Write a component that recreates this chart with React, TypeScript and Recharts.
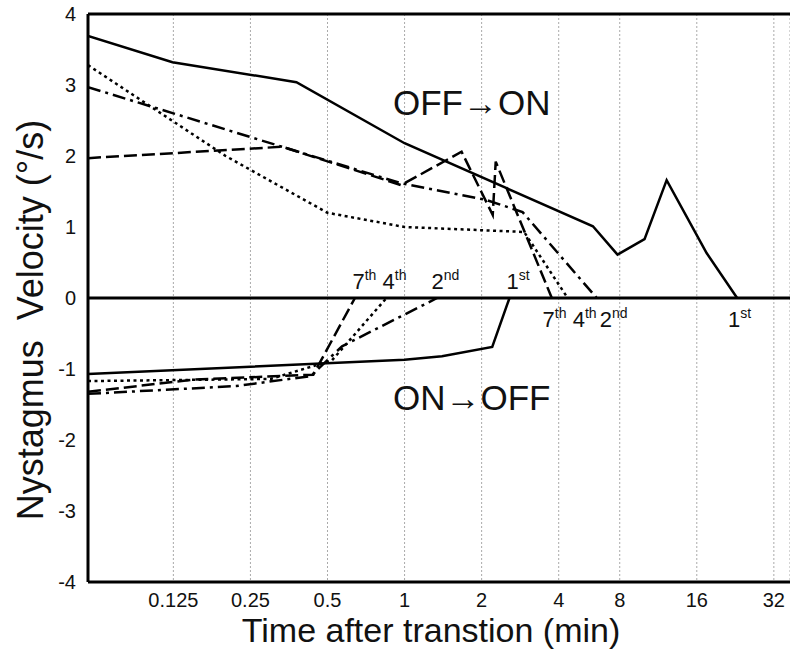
import React from "react";
import {
  LineChart,
  Line,
  XAxis,
  YAxis,
  CartesianGrid,
  ReferenceLine,
  ReferenceDot,
  Label,
} from "recharts";

// time (min), velocity (deg/s)
const xTicks = [0.125, 0.25, 0.5, 1, 2, 4, 8, 16, 32];
const yTicks = [-4, -3, -2, -1, 0, 1, 2, 3, 4];

const offOn1st = [
  [0.058, 3.69], [0.124, 3.32], [0.378, 3.04], [1.0, 2.18], [5.9, 1.01],
  [7.8, 0.61], [10.0, 0.83], [12.2, 1.66], [17.5, 0.63], [23, 0],
];
const offOn2nd = [[0.058, 2.97], [0.96, 1.62], [2.09, 1.38], [2.89, 1.21], [6.16, 0]];
const offOn4th = [[0.058, 3.28], [0.2, 2.0], [0.5, 1.2], [1.0, 1.0], [2.93, 0.93], [4.43, 0]];
const offOn7th = [
  [0.058, 1.97], [0.333, 2.13], [0.97, 1.59], [1.67, 2.06], [2.21, 1.17], [2.27, 1.92], [3.76, 0],
];

const onOff1st = [[0.058, -1.07], [1.0, -0.87], [1.4, -0.82], [2.2, -0.69], [2.57, 0]];
const onOff2nd = [[0.058, -1.35], [0.22, -1.24], [0.43, -1.1], [0.57, -0.68], [1.34, 0]];
const onOff4th = [[0.058, -1.17], [0.3, -1.14], [0.52, -0.88], [0.85, 0]];
const onOff7th = [[0.058, -1.32], [0.15, -1.15], [0.44, -1.08], [0.64, 0]];

// ordinal labels near the zero line: [time, num, suffix]
const upperTags = [[0.626, "7", "th"], [0.82, "4", "th"], [1.275, "2", "nd"], [2.5, "1", "st"]];
const lowerTags = [[3.46, "7", "th"], [4.69, "4", "th"], [6.38, "2", "nd"], [21.2, "1", "st"]];

// the original axis squeezes the 4-8 octave a bit
const pos = (t: number) =>
  t <= 4 ? Math.log2(t / 0.125) : t <= 8 ? 5 + 0.792 * Math.log2(t / 4) : 5.792 + Math.log2(t / 8);

const toData = (arr: number[][]) => arr.map(([t, v]) => ({ x: pos(t), y: v }));

const font = "'Liberation Sans', Arial, sans-serif";

const tickLabel = (v: number) => {
  const t = xTicks.find((k) => Math.abs(pos(k) - v) < 1e-6);
  return t === undefined ? "" : String(t);
};

const tagShape = (num: string, sup: string, dy: number) => (p: any) => (
  <text x={p.cx} y={p.cy + dy} fontFamily={font} fontSize={22} fill="#111">
    <tspan>{num}</tspan>
    <tspan dy={-9} fontSize={14}>{sup}</tspan>
  </text>
);

const bigText = (txt: string) => (p: any) => (
  <text x={p.cx} y={p.cy} textAnchor="middle" fontFamily={font} fontSize={35} fill="#111">
    {txt}
  </text>
);

const series = [
  { data: offOn1st, dash: undefined },
  { data: offOn2nd, dash: "13 5 3 5" },
  { data: offOn4th, dash: "3 3.5" },
  { data: offOn7th, dash: "13 5" },
  { data: onOff1st, dash: undefined },
  { data: onOff2nd, dash: "13 5 3 5" },
  { data: onOff4th, dash: "3 3.5" },
  { data: onOff7th, dash: "13 5" },
];

export default function App() {
  return (
    <div style={{ width: 790, height: 656, background: "#fff" }}>
      <style>{`body{margin:0}`}</style>
      <LineChart width={790} height={656} margin={{ top: 14, right: 0, left: 0, bottom: 0 }}>
        <CartesianGrid vertical horizontal={false} stroke="#aaa" strokeDasharray="2 2" />
        <XAxis
          type="number"
          dataKey="x"
          domain={[pos(0.058), pos(37)]}
          ticks={xTicks.map(pos)}
          tickFormatter={tickLabel}
          allowDataOverflow
          height={74}
          tickLine={false}
          tickMargin={5}
          axisLine={{ stroke: "#000", strokeWidth: 3 }}
          tick={{ fill: "#111", fontSize: 20, fontFamily: font }}
        >
          <Label
            content={(p: any) => (
              <text
                x={p.viewBox.x + p.viewBox.width / 2 - 8}
                y={p.viewBox.y + 60}
                textAnchor="middle"
                fontFamily={font}
                fontSize={34}
                fill="#111"
              >
                Time after transtion (min)
              </text>
            )}
          />
        </XAxis>
        <YAxis
          type="number"
          domain={[-4, 4]}
          ticks={yTicks}
          width={88}
          tickLine={false}
          tickMargin={6}
          axisLine={{ stroke: "#000", strokeWidth: 3 }}
          tick={{ fill: "#111", fontSize: 20, fontFamily: font }}
        >
          <Label
            content={(p: any) => {
              const cx = 30;
              const cy = p.viewBox.y + p.viewBox.height / 2 + 22;
              return (
                <text
                  x={cx}
                  y={cy}
                  transform={`rotate(-90 ${cx} ${cy})`}
                  textAnchor="middle"
                  dominantBaseline="central"
                  fontFamily={font}
                  fontSize={36}
                  fill="#111"
                  style={{ whiteSpace: "pre" }}
                >
                  {"Nystagmus  Velocity (°/s)"}
                </text>
              );
            }}
          />
        </YAxis>
        <ReferenceLine y={4} stroke="#000" strokeWidth={3} />
        <ReferenceLine y={0} stroke="#000" strokeWidth={3} />
        {series.map((s, i) => (
          <Line
            key={i}
            data={toData(s.data)}
            dataKey="y"
            type="linear"
            stroke="#000"
            strokeWidth={2.5}
            strokeDasharray={s.dash}
            dot={false}
            activeDot={false}
            isAnimationActive={false}
          />
        ))}
        {upperTags.map(([t, n, s], i) => (
          <ReferenceDot
            key={"u" + i}
            x={pos(t as number)}
            y={0}
            r={0}
            shape={tagShape(n as string, s as string, -9)}
          />
        ))}
        {lowerTags.map(([t, n, s], i) => (
          <ReferenceDot
            key={"l" + i}
            x={pos(t as number)}
            y={0}
            r={0}
            shape={tagShape(n as string, s as string, 29)}
          />
        ))}
        <ReferenceDot x={pos(1.83)} y={2.58} r={0} shape={bigText("OFF→ON")} />
        <ReferenceDot x={pos(1.83)} y={-1.58} r={0} shape={bigText("ON→OFF")} />
      </LineChart>
    </div>
  );
}
